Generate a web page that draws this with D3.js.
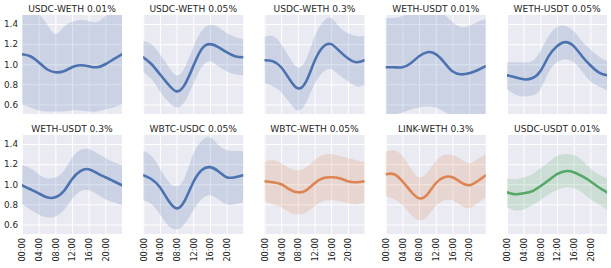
<!DOCTYPE html>
<html>
<head>
<meta charset="utf-8">
<script src="https://cdn.jsdelivr.net/npm/d3@7"></script>
<style>
  body { margin: 0; background: #fff; }
  text { font-family: "DejaVu Sans", sans-serif; fill: #262626; }
</style>
</head>
<body>
<div id="chart"></div>
<script>
// hours of the day (x) and the pools shown
const hours = [0, 2, 4, 6, 8, 10, 12, 14, 16, 18, 20, 22, 24];
const xTicks = [0, 4, 8, 12, 16, 20];
const yTicks = [0.6, 0.8, 1.0, 1.2, 1.4];
const pairs = ["USDC-WETH 0.01%", "USDC-WETH 0.05%", "USDC-WETH 0.3%", "WETH-USDT 0.01%", "WETH-USDT 0.05%",
               "WETH-USDT 0.3%", "WBTC-USDC 0.05%", "WBTC-WETH 0.05%", "LINK-WETH 0.3%", "USDC-USDT 0.01%"];
const colorIdx = [0, 0, 0, 0, 0, 0, 0, 1, 1, 2];
const palette = ["#4C72B0", "#DD8452", "#55A868"];

// mean line per pool
const meanValues = [
  [1.10,1.08,1.02,0.95,0.92,0.93,0.97,0.99,0.98,0.97,1.00,1.05,1.10],
  [1.07,1.00,0.90,0.80,0.73,0.80,0.98,1.15,1.20,1.17,1.12,1.08,1.07],
  [1.04,1.03,0.97,0.85,0.76,0.83,1.03,1.17,1.20,1.13,1.06,1.02,1.04],
  [0.97,0.97,0.97,1.01,1.08,1.12,1.10,1.02,0.93,0.90,0.91,0.94,0.98],
  [0.89,0.87,0.85,0.86,0.93,1.08,1.18,1.22,1.18,1.08,0.99,0.92,0.89],
  [0.99,0.95,0.91,0.87,0.87,0.93,1.05,1.13,1.15,1.11,1.07,1.03,0.99],
  [1.09,1.05,0.97,0.84,0.76,0.84,1.02,1.14,1.17,1.13,1.07,1.07,1.09],
  [1.03,1.02,1.00,0.95,0.92,0.94,1.01,1.06,1.07,1.06,1.03,1.02,1.03],
  [1.10,1.10,1.03,0.93,0.86,0.90,1.01,1.07,1.07,1.02,0.99,1.03,1.09],
  [0.92,0.90,0.91,0.93,0.98,1.04,1.10,1.13,1.12,1.08,1.03,0.97,0.92]
];
// lower edge of the band
const lowerValues = [
  [0.60,0.57,0.54,0.53,0.53,0.53,0.54,0.54,0.53,0.53,0.55,0.57,0.60],
  [0.92,0.85,0.73,0.63,0.57,0.63,0.80,0.97,1.03,0.98,0.93,0.90,0.89],
  [0.81,0.78,0.72,0.62,0.54,0.62,0.80,0.92,0.95,0.89,0.83,0.78,0.79],
  [0.50,0.50,0.52,0.55,0.57,0.58,0.57,0.53,0.48,0.45,0.45,0.47,0.49],
  [0.75,0.70,0.68,0.69,0.75,0.92,1.02,1.05,1.02,0.93,0.83,0.78,0.74],
  [0.80,0.75,0.70,0.67,0.68,0.74,0.85,0.93,0.94,0.90,0.85,0.82,0.79],
  [0.84,0.80,0.70,0.59,0.55,0.61,0.74,0.85,0.89,0.85,0.80,0.80,0.82],
  [0.83,0.80,0.77,0.72,0.70,0.72,0.78,0.83,0.84,0.83,0.81,0.80,0.82],
  [0.88,0.85,0.79,0.70,0.64,0.68,0.78,0.84,0.84,0.79,0.76,0.81,0.87],
  [0.77,0.74,0.75,0.79,0.84,0.90,0.94,0.97,0.96,0.92,0.85,0.80,0.75]
];
// upper edge of the band
const upperValues = [
  [1.60,1.56,1.50,1.40,1.30,1.37,1.42,1.44,1.43,1.42,1.48,1.55,1.60],
  [1.23,1.20,1.10,0.98,0.89,0.97,1.17,1.33,1.39,1.37,1.31,1.27,1.25],
  [1.27,1.28,1.20,1.07,0.97,1.05,1.27,1.42,1.46,1.37,1.31,1.28,1.28],
  [1.46,1.46,1.48,1.53,1.58,1.60,1.58,1.50,1.42,1.37,1.38,1.42,1.45],
  [1.02,1.02,1.02,1.03,1.13,1.28,1.37,1.38,1.33,1.23,1.15,1.08,1.03],
  [1.19,1.16,1.10,1.06,1.07,1.13,1.26,1.34,1.35,1.31,1.26,1.22,1.19],
  [1.33,1.28,1.16,1.03,0.98,1.07,1.30,1.43,1.47,1.39,1.34,1.33,1.33],
  [1.22,1.24,1.21,1.16,1.14,1.17,1.24,1.29,1.30,1.28,1.26,1.24,1.22],
  [1.32,1.34,1.28,1.16,1.07,1.12,1.23,1.29,1.29,1.25,1.21,1.25,1.30],
  [1.06,1.05,1.07,1.10,1.16,1.22,1.28,1.30,1.29,1.24,1.16,1.10,1.06]
];

const W = 611, H = 268;
const pw = 100, ph = 99;
const colLeft = i => 22 + i * 121.25;
const rowTop = [15, 135];

const svg = d3.select("#chart").append("svg")
  .attr("width", W).attr("height", H);

const x = d3.scaleLinear().domain([0, 24]).range([0, pw]);
const y = d3.scaleLinear().domain([0.505, 1.49]).range([ph, 0]);

const area = d3.area()
  .x(d => x(d.h)).y0(d => y(d.lo)).y1(d => y(d.hi))
  .curve(d3.curveNatural);
const line = d3.line()
  .x(d => x(d.h)).y(d => y(d.m))
  .curve(d3.curveNatural);

pairs.forEach((name, i) => {
  const row = Math.floor(i / 5), col = i % 5;
  const g = svg.append("g")
    .attr("transform", `translate(${colLeft(col)},${rowTop[row]})`);

  g.append("rect").attr("width", pw).attr("height", ph).attr("fill", "#EAEAF2");

  // grid + tick labels
  const gx = g.append("g").attr("transform", `translate(0,${ph})`)
    .call(d3.axisBottom(x).tickValues(xTicks).tickSize(-ph).tickPadding(3)
      .tickFormat(d => String(d).padStart(2, "0") + ":00"));
  const gy = g.append("g")
    .call(d3.axisLeft(y).tickValues(yTicks).tickSize(-pw).tickPadding(4)
      .tickFormat(d3.format(".1f")));
  [gx, gy].forEach(a => {
    a.select(".domain").remove();
    a.selectAll("line").attr("stroke", "#fff").attr("stroke-width", 1);
    a.selectAll("text").attr("fill", "#262626").style("font-size", "8.8px")
      .style("font-family", "DejaVu Sans");
  });
  gx.selectAll("text")
    .attr("y", 0).attr("x", -4).attr("dy", "0.35em")
    .attr("transform", "rotate(-90)")
    .style("text-anchor", "end")
    .style("font-size", "8.2px");
  if (row === 0) gx.selectAll("text").remove();
  if (col !== 0) gy.selectAll("text").remove();

  const data = hours.map((h, k) => ({
    h: h, m: meanValues[i][k], lo: lowerValues[i][k], hi: upperValues[i][k]
  }));

  g.append("clipPath").attr("id", "clip" + i)
    .append("rect").attr("width", pw).attr("height", ph);

  const c = palette[colorIdx[i]];
  const plot = g.append("g").attr("clip-path", `url(#clip${i})`);
  plot.append("path").datum(data)
    .attr("d", area).attr("fill", c).attr("fill-opacity", 0.2);
  plot.append("path").datum(data)
    .attr("d", line).attr("fill", "none").attr("stroke", c)
    .attr("stroke-width", 2.6).attr("stroke-linecap", "round");

  // title
  g.append("text")
    .attr("x", pw / 2).attr("y", -3.5)
    .attr("text-anchor", "middle")
    .style("font-size", "9.1px")
    .text(name);
});
</script>
</body>
</html>
